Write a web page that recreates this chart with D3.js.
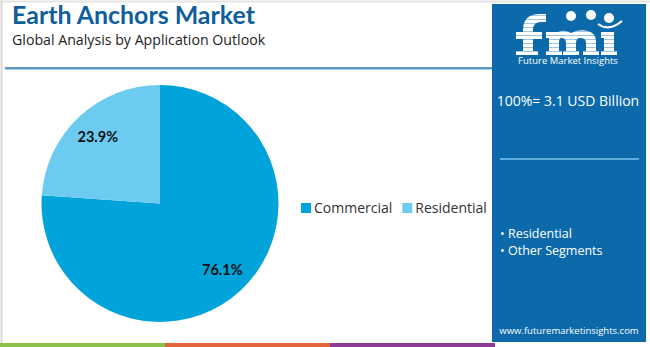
<!DOCTYPE html>
<html>
<head>
<meta charset="utf-8">
<script src="https://cdn.jsdelivr.net/npm/d3@7"></script>
<style>
  html, body { margin: 0; padding: 0; background: #fff; }
  svg { display: block; font-family: "Open Sans", "Noto Sans", sans-serif; }
</style>
</head>
<body>
<svg id="chart" width="650" height="347"></svg>
<script>
// Application share of the earth anchors market
const categories = ["Commercial", "Residential"];
const shares = [76.1, 23.9];
const colors = ["#00a3da", "#6dcbf1"];
const panelSegments = ["Residential", "Other Segments"];
const stripeColors = ["#8bc34a", "#e0663a", "#8e3a96"];

const svg = d3.select("#chart");

// shrink or grow a text's font so it spans a given width
function fitWidth(sel, width) {
  const fs = parseFloat(sel.attr("font-size"));
  const w = sel.node().getComputedTextLength();
  sel.attr("font-size", (fs * width / w).toFixed(2));
}

// frame edges
svg.append("rect").attr("x", 0).attr("y", 0).attr("width", 650).attr("height", 347).attr("fill", "#fff");
svg.append("line").attr("x1", 1.5).attr("x2", 1.5).attr("y1", 0).attr("y2", 347).attr("stroke", "#d9d9d9").attr("stroke-width", 2);
svg.append("line").attr("x1", 0).attr("x2", 650).attr("y1", 1.5).attr("y2", 1.5).attr("stroke", "#e3e3e3").attr("stroke-width", 2);

// bottom colour stripe
const stripeX = d3.scaleBand().domain(d3.range(3)).range([0, 495]);
svg.selectAll("rect.stripe").data(stripeColors).join("rect")
  .attr("class", "stripe")
  .attr("x", (d, i) => stripeX(i)).attr("y", 343)
  .attr("width", stripeX.bandwidth()).attr("height", 4)
  .attr("fill", d => d);

// title block
const title = svg.append("text").attr("x", 12).attr("y", 24)
  .attr("font-size", 21.5).attr("font-weight", 700).attr("fill", "#0f5e9c")
  .attr("font-family", "Lato, 'Open Sans', sans-serif")
  .text("Earth Anchors Market");
fitWidth(title, 243);
const subtitle = svg.append("text").attr("x", 12).attr("y", 45)
  .attr("font-size", 13.2).attr("fill", "#222")
  .text("Global Analysis by Application Outlook");
fitWidth(subtitle, 253);
svg.append("line").attr("x1", 5).attr("x2", 492).attr("y1", 68).attr("y2", 68)
  .attr("stroke", "#2f72aa").attr("stroke-width", 1.6);
svg.append("line").attr("x1", 5).attr("x2", 492).attr("y1", 69.5).attr("y2", 69.5)
  .attr("stroke", "#9fd3f0").attr("stroke-width", 1);

// pie
const cx = 160, cy = 203.5, r = 118.5;
const pie = d3.pie().sort(null).value(d => d)
  .startAngle(0).endAngle(2 * Math.PI);
const arcs = pie(shares);
const arc = d3.arc().innerRadius(0).outerRadius(r);
const g = svg.append("g").attr("transform", `translate(${cx},${cy})`);
g.selectAll("path").data(arcs).join("path")
  .attr("d", arc)
  .attr("fill", (d, i) => colors[i]);

const labelArc = d3.arc().innerRadius(r * 0.77).outerRadius(r * 0.77);
g.selectAll("text.val").data(arcs).join("text")
  .attr("class", "val")
  .attr("transform", d => {
    const [x, y] = labelArc.centroid(d);
    return `translate(${x},${y})`;
  })
  .attr("text-anchor", "middle").attr("dy", "0.35em")
  .attr("font-size", 14.5).attr("font-weight", 700).attr("fill", "#111")
  .attr("font-family", "Lato, 'Open Sans', sans-serif")
  .text((d, i) => shares[i].toFixed(1) + "%");

// legend
const legend = svg.append("g").attr("transform", "translate(301,208)");
let lx = 0;
categories.forEach((c, i) => {
  const item = legend.append("g").attr("transform", `translate(${lx},0)`);
  item.append("rect").attr("x", 0).attr("y", -5).attr("width", 10).attr("height", 10).attr("fill", colors[i]);
  const t = item.append("text").attr("x", 13).attr("y", 0).attr("dy", "0.35em")
    .attr("font-size", 14).attr("fill", "#333").text(c);
  lx += 13 + t.node().getComputedTextLength() + 10;
});

// side panel
const panel = svg.append("g");
panel.append("rect").attr("x", 492).attr("y", 4).attr("width", 154).attr("height", 338).attr("fill", "#0d6aaa");

// striped "fmi" logo mark, drawn as shapes
const defs = svg.append("defs");
const pat = defs.append("pattern").attr("id", "stripes").attr("patternUnits", "userSpaceOnUse")
  .attr("width", 4).attr("height", 4);
pat.append("rect").attr("width", 4).attr("height", 3).attr("fill", "#fff");
pat.append("rect").attr("y", 3).attr("width", 4).attr("height", 1).attr("fill", "#9cc6e6");
const logoPath = [
  // f
  "M523 55 V30 Q523 14 540 14 H546 V22 H541 Q533 22 533 30 V32 H542 V39 H533 V51 H538 V55 Z",
  "M516 32 H523 V39 H516 Z",
  "M516 51 H523 V55 H516 Z",
  // m
  "M546 55 V51 H549 V38 H546 V32 H558 Q564 29 571 33 Q578 29 588 31 Q596 33 596 42 V51 H599 V55 H583 V51 H586 V43 Q586 38 580 38 Q576 38 576 43 V51 H579 V55 H563 V51 H566 V43 Q566 38 561 38 Q559 38 559 43 V51 H562 V55 Z",
  // i
  "M601 55 V51 H604 V38 H601 V32 H614 V51 H617 V55 Z"
].join(" ");
panel.append("path").attr("d", logoPath).attr("fill", "url(#stripes)");
[[571, 16], [591, 15], [609, 18]].forEach(([x, y]) => {
  panel.append("circle").attr("cx", x).attr("cy", y).attr("r", 5).attr("fill", "#fff");
});
panel.append("path").attr("d", "M598 24 Q609 32 622 21").attr("fill", "none").attr("stroke", "#fff").attr("stroke-width", 2);
panel.append("text").attr("x", 568).attr("y", 64).attr("text-anchor", "middle")
  .attr("font-size", 9.5).attr("fill", "#fff").text("Future Market Insights");

panel.append("text").attr("x", 568).attr("y", 106).attr("text-anchor", "middle")
  .attr("font-size", 14).attr("fill", "#fff").text("100%= 3.1 USD Billion");
panel.append("line").attr("x1", 500).attr("x2", 639).attr("y1", 159).attr("y2", 159)
  .attr("stroke", "#7cc4ef").attr("stroke-width", 1.5);

panel.selectAll("text.seg").data(panelSegments).join("text")
  .attr("class", "seg")
  .attr("x", 500).attr("y", (d, i) => 238 + i * 17)
  .attr("font-size", 12.5).attr("fill", "#fff")
  .text(d => "\u2022 " + d);

panel.append("text").attr("x", 569).attr("y", 334).attr("text-anchor", "middle")
  .attr("font-size", 9.5).attr("fill", "#fff").text("www.futuremarketinsights.com");
</script>
</body>
</html>
